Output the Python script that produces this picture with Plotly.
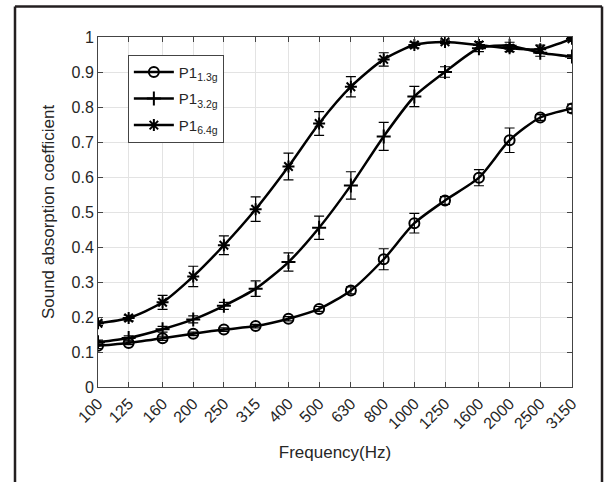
import plotly.graph_objects as go

freqs = [100, 125, 160, 200, 250, 315, 400, 500, 630, 800, 1000, 1250, 1600, 2000, 2500, 3150]
freq_labels = [str(f) for f in freqs]

p1_13 = [0.118, 0.126, 0.139, 0.152, 0.164, 0.174, 0.195, 0.223, 0.276, 0.365, 0.468, 0.533, 0.598, 0.705, 0.770, 0.796]
p1_13_err = [0.008, 0.005, 0.006, 0.005, 0.005, 0.005, 0.006, 0.007, 0.010, 0.030, 0.028, 0.011, 0.023, 0.035, 0.008, 0.012]

p1_32 = [0.128, 0.140, 0.165, 0.193, 0.232, 0.281, 0.357, 0.455, 0.576, 0.716, 0.830, 0.900, 0.968, 0.975, 0.955, 0.944]
p1_32_err = [0.006, 0.006, 0.008, 0.010, 0.010, 0.022, 0.026, 0.033, 0.039, 0.040, 0.029, 0.015, 0.010, 0.010, 0.010, 0.005]

p1_64 = [0.182, 0.197, 0.242, 0.316, 0.405, 0.508, 0.630, 0.753, 0.858, 0.936, 0.977, 0.986, 0.977, 0.968, 0.965, 0.995]
p1_64_err = [0.006, 0.008, 0.020, 0.029, 0.027, 0.035, 0.038, 0.034, 0.029, 0.019, 0.008, 0.005, 0.010, 0.010, 0.012, 0.004]

series = [
    ("P1<sub>1.3g</sub>", p1_13, p1_13_err, "circle-open"),
    ("P1<sub>3.2g</sub>", p1_32, p1_32_err, "cross-thin-open"),
    ("P1<sub>6.4g</sub>", p1_64, p1_64_err, "asterisk-open"),
]

FONT = "Liberation Sans, Arial"

fig = go.Figure()
for i, (name, vals, errs, sym) in enumerate(series):
    fig.add_trace(go.Scatter(
        x=freqs, y=vals, name=name, mode="lines+markers", legendgroup=f"g{i}",
        line=dict(color="black", width=2.5, shape="spline", smoothing=0.7),
        marker=dict(symbol=sym, size=10, color="black", line=dict(color="black", width=2)),
        error_y=dict(type="data", array=errs, visible=True, color="black", thickness=1.2, width=5),
    ))

axis_common = dict(
    showline=True, linecolor="#444444", linewidth=1, mirror="ticks",
    ticks="inside", ticklen=5, tickcolor="#444444",
    showgrid=True, gridcolor="#e3e3e3", gridwidth=1, zeroline=False,
    tickfont=dict(family=FONT, size=16, color="#262626"),
)

fig.update_xaxes(
    type="log", range=[2, 3.49831], tickmode="array", tickvals=freqs, ticktext=freq_labels,
    tickangle=-45,
    title=dict(text="Frequency(Hz)", font=dict(family=FONT, size=17, color="#262626"), standoff=14),
    **axis_common,
)
fig.update_yaxes(
    range=[0, 1], dtick=0.1, tick0=0,
    title=dict(text="Sound absorption coefficient", font=dict(family=FONT, size=17, color="#262626"), standoff=12),
    **axis_common,
)

fig.update_layout(
    width=604, height=482,
    margin=dict(l=98, r=32, t=37, b=95),
    paper_bgcolor="white", plot_bgcolor="white",
    showlegend=True,
    legend=dict(
        x=0.063, y=0.949, xanchor="left", yanchor="top",
        bgcolor="white", bordercolor="#444444", borderwidth=1,
        font=dict(family=FONT, size=15, color="#262626"),
        itemwidth=40, tracegroupgap=4,
    ),
    shapes=[
        dict(type="line", xref="paper", yref="paper", x0=-0.1751, x1=-0.1751, y0=1.0873, y1=-0.4,
             line=dict(color="#231f20", width=2.5)),
        dict(type="line", xref="paper", yref="paper", x0=-0.1751, x1=1.0633, y0=1.0873, y1=1.0873,
             line=dict(color="#231f20", width=2.5)),
        dict(type="line", xref="paper", yref="paper", x0=1.0633, x1=1.0633, y0=1.0873, y1=-0.4,
             line=dict(color="#231f20", width=2.5)),
    ],
)

fig.write_html("out.html", config={"displayModeBar": False},
               post_script="document.body.style.margin='0';document.body.style.overflow='hidden';")
